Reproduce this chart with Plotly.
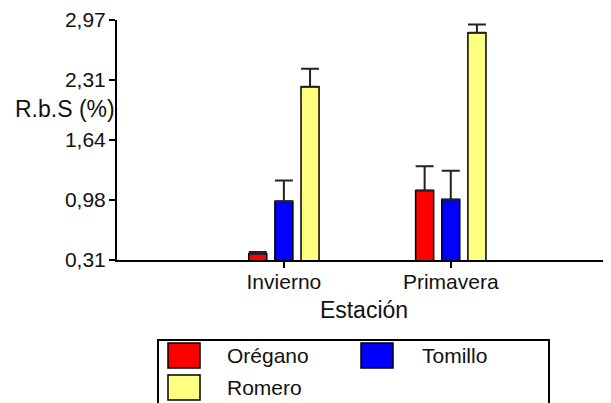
import plotly.graph_objects as go

# ---- data ----
categories = ["Invierno", "Primavera"]
cat_pos = [1, 2]
series_names = ["Orégano", "Tomillo", "Romero"]
oregano = [0.38, 1.08]
oregano_err = [0.02, 0.27]
tomillo = [0.96, 0.98]
tomillo_err = [0.23, 0.32]
romero = [2.23, 2.83]
romero_err = [0.20, 0.09]
y_tickvals = [0.31, 0.975, 1.64, 2.305, 2.97]
y_ticktext = ["0,31", "0,98", "1,64", "2,31", "2,97"]

colors = ["#FF0000", "#0000FF", "#FFFF80"]
values = [oregano, tomillo, romero]
errors = [oregano_err, tomillo_err, romero_err]

OFF = 8  # default page body margin
W, H = 611 - OFF, 403 - OFF
ML, MT = 117 - OFF, 20 - OFF
MB = H - (260 - OFF)
MR = 0
PW = W - ML - MR
PH = H - MT - MB
FONT = "Liberation Sans, Arial, sans-serif"


def px(x):  # page pixel -> paper x
    return (x - OFF - ML) / PW


def py(y):  # page pixel -> paper y
    return (H - MB - (y - OFF)) / PH


fig = go.Figure()
for name, vals, errs, col in zip(series_names, values, errors, colors):
    fig.add_trace(go.Bar(
        x=cat_pos, y=vals, name=name,
        marker=dict(color=col, line=dict(color="black", width=1.5)),
        error_y=dict(type="data", array=errs, arrayminus=[0] * len(errs),
                     symmetric=False, color="#222222", thickness=2, width=9),
        showlegend=False,
    ))

fig.update_layout(
    width=W, height=H, autosize=False,
    margin=dict(l=ML, r=MR, t=MT, b=MB, pad=0),
    paper_bgcolor="white", plot_bgcolor="white",
    barmode="group", bargap=0.53, bargroupgap=0.31,
    font=dict(family=FONT, size=21, color="#111111"),
    xaxis=dict(
        range=[0, 2.96], tickmode="array", tickvals=cat_pos, ticktext=categories,
        showline=True, linecolor="black", linewidth=2, ticks="outside",
        ticklen=6, tickwidth=2, tickcolor="black", showgrid=False, zeroline=False,
        tickfont=dict(size=21), ticklabelstandoff=-4,
        title=dict(text="Estación", font=dict(size=23), standoff=10),
    ),
    yaxis=dict(
        range=[0.31, 2.97], tickmode="array", tickvals=y_tickvals, ticktext=y_ticktext,
        showline=True, linecolor="black", linewidth=2, ticks="outside",
        ticklen=6, tickwidth=2, tickcolor="black", showgrid=False, zeroline=False,
        tickfont=dict(size=21), ticklabelstandoff=-1,
    ),
)

# y-axis title (horizontal)
fig.add_annotation(xref="paper", yref="paper", x=px(117), y=py(109),
                   xanchor="right", yanchor="middle", showarrow=False,
                   text="R.b.S (%)", font=dict(size=23))

# legend box (manual)
fig.add_shape(type="rect", xref="paper", yref="paper",
              x0=px(158), x1=px(549), y0=py(340), y1=py(412),
              line=dict(color="black", width=2), fillcolor="rgba(0,0,0,0)")
legend_pos = [(168, 343), (361, 343), (168, 375)]
for name, col, (lx, ly) in zip(series_names, colors, legend_pos):
    fig.add_shape(type="rect", xref="paper", yref="paper",
                  x0=px(lx), x1=px(lx + 32), y0=py(ly), y1=py(ly + 25),
                  line=dict(color="black", width=1.5), fillcolor=col)
    tx = lx + 57 if lx < 300 else lx + 59
    fig.add_annotation(xref="paper", yref="paper", x=px(tx), y=py(ly + 12.5),
                       xanchor="left", yanchor="middle", showarrow=False,
                       text=name, font=dict(size=21))

fig.write_html("out.html")
